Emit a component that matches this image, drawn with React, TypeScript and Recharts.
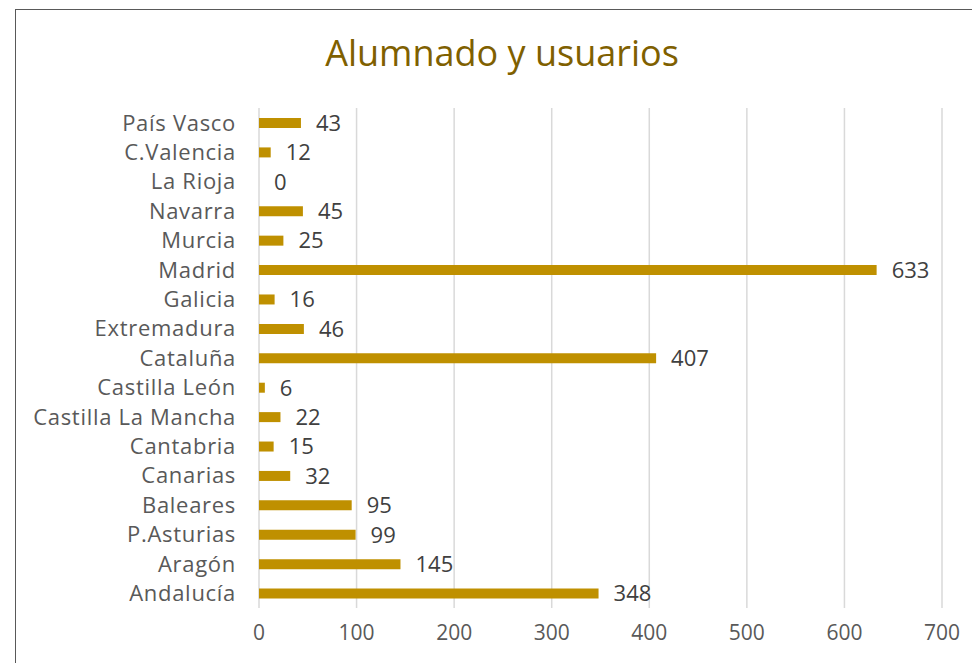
import React from "react"
import { BarChart, Bar, XAxis, YAxis, CartesianGrid, LabelList } from "recharts"

// Excel order: first category is drawn at the bottom
const regions = [
  "Andalucía", "Aragón", "P.Asturias", "Baleares", "Canarias", "Cantabria",
  "Castilla La Mancha", "Castilla León", "Cataluña", "Extremadura", "Galicia",
  "Madrid", "Murcia", "Navarra", "La Rioja", "C.Valencia", "País Vasco",
]
const students = [348, 145, 99, 95, 32, 15, 22, 6, 407, 46, 16, 633, 25, 45, 0, 12, 43]
const xTicks = [0, 100, 200, 300, 400, 500, 600, 700]

const chartData = regions.map((name, i) => ({ name, value: students[i] }))

const font = "'Open Sans', 'Noto Sans', sans-serif"

export default function App() {
  return (
    <div style={{ position: "absolute", left: 0, top: 0, width: 972, height: 663, background: "#fff", overflow: "hidden", fontFamily: font }}>
      {/* chart frame: only top/left edges are inside the shot */}
      <div style={{ position: "absolute", left: 15, top: 9, width: 1000, height: 700, borderTop: "1.5px solid #595959", borderLeft: "1.5px solid #595959" }} />
      <div style={{ position: "absolute", left: 202, width: 600, top: 28, textAlign: "center", fontSize: 36, color: "#7F6000", fontFamily: font }}>
        Alumnado y usuarios
      </div>
      <div style={{ position: "absolute", left: 0, top: 0 }}>
        <BarChart
          width={972}
          height={663}
          layout="vertical"
          data={chartData}
          margin={{ top: 108, right: 30, left: 0, bottom: 0 }}
          barSize={10}
        >
          <CartesianGrid horizontal={false} stroke="#d9d9d9" strokeWidth={1.5} />
          <XAxis
            type="number"
            domain={[0, 700]}
            ticks={xTicks}
            axisLine={false}
            tickLine={false}
            tickMargin={11}
            tick={{ fill: "#595959", fontSize: 21, fontFamily: font }}
            height={55}
          />
          <YAxis
            dataKey="name"
            type="category"
            reversed
            width={259}
            axisLine={false}
            tickLine={false}
            tickMargin={17}
            interval={0}
            tick={{ fill: "#595959", fontSize: 22, fontFamily: font, letterSpacing: 0.7 }}
          />
          <Bar dataKey="value" fill="#BF9000" minPointSize={0.01} isAnimationActive={false}>
            <LabelList dataKey="value" position="right" offset={15} fill="#404040" fontSize={22} fontFamily={font} />
          </Bar>
        </BarChart>
      </div>
    </div>
  )
}
